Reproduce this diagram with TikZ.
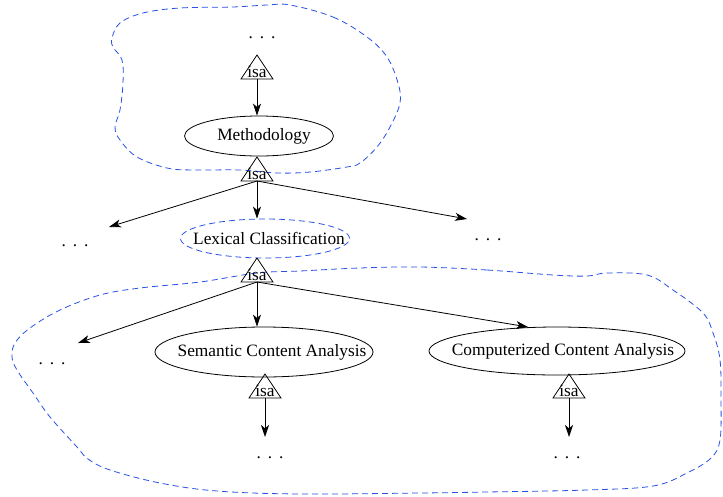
\documentclass[tikz,border=0pt]{standalone}
\usepackage{fontspec}
\setmainfont{Liberation Serif}
\usetikzlibrary{arrows.meta,shapes.geometric}
\definecolor{blobblue}{RGB}{40,80,230}
\newcommand{\mydots}{.\hspace{0.4em}.\hspace{0.4em}.}
\tikzset{
  lbl/.style={font=\fontsize{13}{15}\selectfont, inner sep=0pt},
  concept/.style={draw, ellipse, inner sep=0pt, line width=0.6pt},
  isatri/.style={draw, line width=0.6pt},
  isalbl/.style={font=\fontsize{13}{15}\selectfont, inner sep=0pt, anchor=base},
  link/.style={draw, line width=0.6pt, -{Stealth[length=9pt,width=6pt,inset=2.5pt]}},
  blob/.style={draw=blobblue, line width=0.6pt, dash pattern=on 4.5pt off 3pt}
}
\begin{document}
\begin{tikzpicture}[x=0.75pt,y=-0.75pt]
\useasboundingbox (0,0) rectangle (723,496);
% blobs
\draw[blob] plot[smooth cycle, tension=0.6] coordinates {
 (290,5) (333,17) (367,37) (387,57) (398,83) (400,103) (390,127) (377,147)
 (360,163) (347,167) (310,172) (277,173) (240,170) (193,170) (167,168)
 (137,157) (120,140) (115,127) (120,110) (123,83) (122,60) (113,47) (112,38)
 (120,23) (143,13) (180,8) (233,7) (267,5)};
\draw[blob] plot[smooth cycle, tension=0.6] coordinates {
 (420,267) (487,270) (553,275) (587,276) (607,273) (647,275) (673,290)
 (703,313) (713,333) (720,360) (721,400) (720,440) (711,458) (687,473)
 (653,486) (587,490) (487,492) (420,493) (300,494) (217,491) (160,483)
 (110,470) (88,459) (77,447) (50,417) (33,393) (17,370) (12,357) (15,343)
 (30,328) (60,310) (100,295) (140,288) (200,282) (257,273) (300,271) (360,268)};
% concepts
\node[lbl] (dots0) at (262,38) {\mydots};
\node[concept, minimum width=111.75pt, minimum height=30pt] (meth) at (259,136) {};
\node[lbl] (methT) at (264,136) {Methodology};
\node[concept, draw=blobblue, dash pattern=on 4.5pt off 3pt, minimum width=126.75pt, minimum height=29.25pt] (lex) at (265,238.5) {};
\node[lbl] (lexT) at (269,238.5) {Lexical Classification};
\node[lbl] (dotsL) at (75,246) {\mydots};
\node[lbl] (dotsR) at (488,240) {\mydots};
\node[concept, minimum width=163.5pt, minimum height=37.5pt] (sem) at (264,352) {};
\node[lbl] (semT) at (272,352) {Semantic Content Analysis};
\node[concept, minimum width=192pt, minimum height=36pt] (comp) at (557,351) {};
\node[lbl] (compT) at (563,351) {Computerized Content Analysis};
\node[lbl] (dotsL2) at (52,364) {\mydots};
\node[lbl] (dots4) at (270,458) {\mydots};
\node[lbl] (dots5) at (567,458) {\mydots};
% isa triangles (base centres)
\coordinate (t1) at (257,79);
\coordinate (t2) at (257,181);
\coordinate (t3) at (257,282);
\coordinate (t4) at (265,398);
\coordinate (t5) at (569,398);
\foreach \t in {t1,t2,t3,t4,t5}{
  \draw[isatri] (\t) ++(-16,0) -- ++(32,0) -- ++(-16,-24) -- cycle;
  \node[isalbl] at ([yshift=0.8pt]\t) {isa};
}
% free arrow ends
\coordinate (eL1) at (109,227);
\coordinate (eR1) at (467,219);
\coordinate (eL2) at (78,343);
\coordinate (eC) at (528,327);
\coordinate (e4) at (265,437);
\coordinate (e5) at (569,437);
% arrows
\draw[link] (t1) -- (t1 |- meth.north);
\draw[link] (t2) -- (eL1);
\draw[link] (t2) -- (t2 |- lex.north);
\draw[link] (t2) -- (eR1);
\draw[link] (t3) -- (eL2);
\draw[link] (t3) -- (t3 |- sem.north);
\draw[link] (t3) -- (eC);
\draw[link] (t4) -- (e4);
\draw[link] (t5) -- (e5);
\end{tikzpicture}
\end{document}
